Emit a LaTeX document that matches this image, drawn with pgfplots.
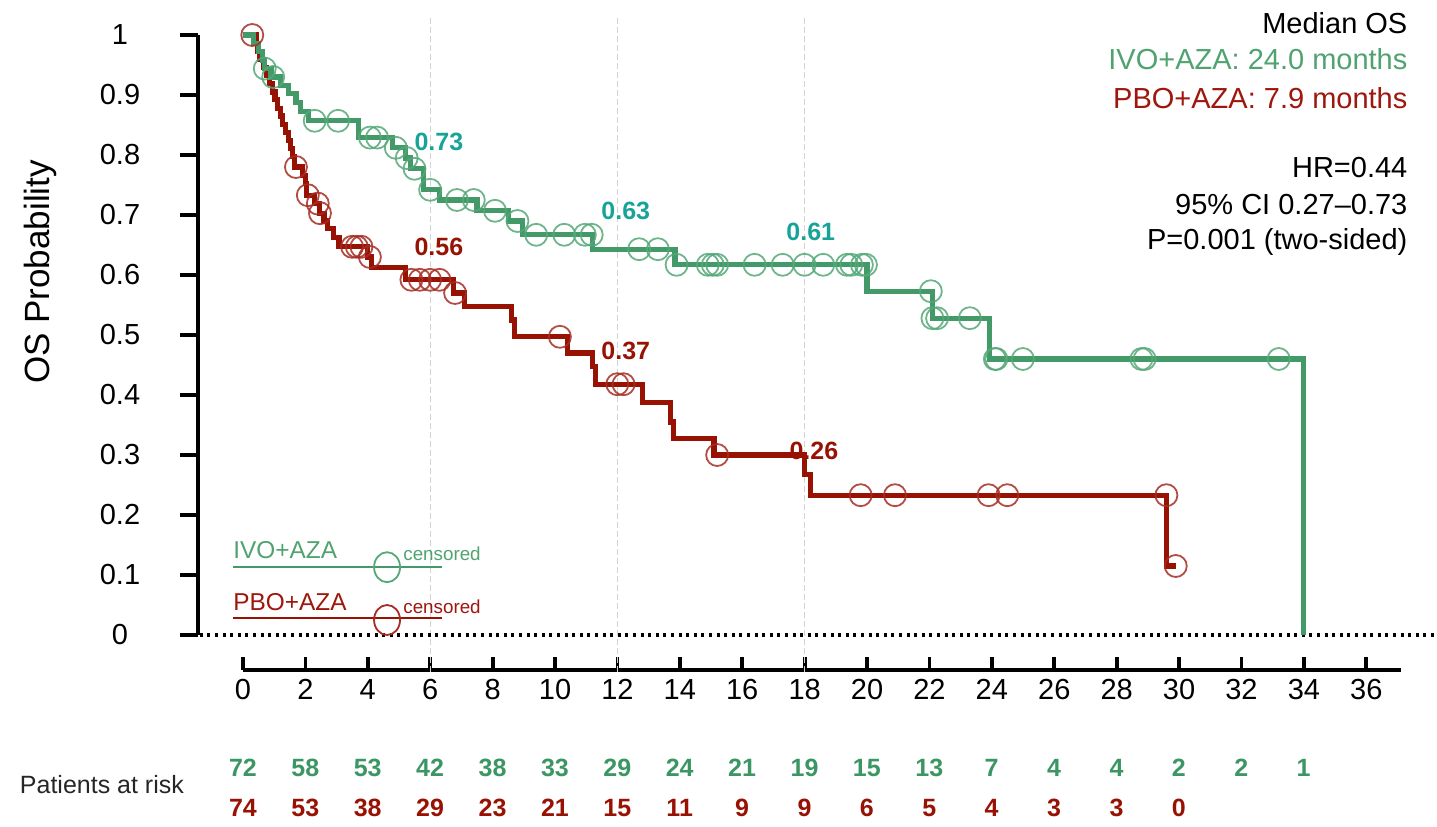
\documentclass[border=0pt]{standalone}
\usepackage{fontspec}
\setmainfont{Liberation Sans}
\usepackage{pgfplots}
\pgfplotsset{compat=1.18}
\definecolor{kmgreen}{RGB}{67,154,104}
\definecolor{kmgreenc}{RGB}{85,168,120}
\definecolor{kmred}{RGB}{152,18,4}
\definecolor{kmredc}{RGB}{165,45,35}
\definecolor{kmteal}{RGB}{24,163,153}
\definecolor{txtgreen}{RGB}{80,163,112}
\definecolor{txtred}{RGB}{158,22,12}
\definecolor{riskgreen}{RGB}{60,150,100}
\begin{document}
\begin{tikzpicture}
\path[use as bounding box] (0,0) rectangle (718.5pt,413pt);
% x axis (separate, below the plot)
\begin{axis}[
  at={(121.5pt,78pt)}, anchor=south west,
  scale only axis, width=578.8pt, height=20pt,
  xmin=0, xmax=37.1, ymin=0, ymax=1,
  axis x line=bottom, axis y line=none,
  x axis line style={-, line width=2.2pt},
  xtick={0,2,...,36},
  tick align=inside, major tick length=6.5pt,
  xtick style={line width=1.9pt, black},
  xticklabel style={font=\fontsize{14.5}{17}\selectfont, yshift=-1pt},
  /pgf/number format/assume math mode=true,
]
\end{axis}
% main plot
\begin{axis}[
  at={(99pt,95.5pt)}, anchor=south west,
  scale only axis, width=601.2pt, height=300pt,
  xmin=-1.44, xmax=37.1, ymin=0, ymax=1,
  axis x line=none, axis y line=left,
  y axis line style={-, line width=2pt},
  ytick={0,0.1,0.2,0.3,0.4,0.5,0.6,0.7,0.8,0.9,1},
  yticklabels={0,0.1,0.2,0.3,0.4,0.5,0.6,0.7,0.8,0.9,1},
  tick align=outside, major tick length=9pt,
  ytick style={line width=2pt, black},
  yticklabel style={font=\fontsize{14.5}{17}\selectfont, anchor=center, xshift=-30pt},
  clip=false,
]
% grid lines at 6, 12, 18
\draw[gray!35, line width=0.5pt, dash pattern=on 3pt off 1.5pt] (axis cs:6,-0.062) -- (axis cs:6,1.033);
\draw[gray!35, line width=0.5pt, dash pattern=on 3pt off 1.5pt] (axis cs:12,-0.062) -- (axis cs:12,1.033);
\draw[gray!35, line width=0.5pt, dash pattern=on 3pt off 1.5pt] (axis cs:18,-0.062) -- (axis cs:18,1.033);
% dotted zero line
\draw[black, line width=1.7pt, dash pattern=on 1.5pt off 2.3pt] (axis cs:-1.38,0) -- (axis cs:38.27,0);

% PBO+AZA
\addplot[const plot, kmred, line width=2.6pt] coordinates {
(0,1) (0.42,0.986) (0.48,0.973) (0.55,0.959) (0.65,0.946) (0.75,0.932)
(0.85,0.919) (0.95,0.905) (1.03,0.892) (1.12,0.878) (1.2,0.865) (1.28,0.851)
(1.36,0.838) (1.45,0.824) (1.52,0.811) (1.6,0.797) (1.66,0.780) (1.9,0.766)
(2.0,0.752) (2.05,0.733) (2.3,0.719) (2.45,0.703) (2.6,0.690) (2.72,0.677)
(2.9,0.663) (3.08,0.647) (4.0,0.630) (4.13,0.612) (5.2,0.592) (6.75,0.570)
(7.1,0.547) (8.6,0.525) (8.7,0.497) (10.4,0.470) (11.2,0.447) (11.3,0.418)
(12.8,0.388) (13.7,0.355) (13.8,0.328) (15.1,0.300) (18.0,0.267) (18.2,0.233)
(29.6,0.115) (29.9,0.115)
};
% IVO+AZA
\addplot[const plot, kmgreen, line width=2.6pt] coordinates {
(0,1) (0.35,0.986) (0.5,0.972) (0.62,0.958) (0.68,0.944) (0.9,0.930)
(1.2,0.916) (1.45,0.902) (1.7,0.888) (1.85,0.873) (2.1,0.857) (3.7,0.829)
(4.8,0.812) (5.2,0.795) (5.38,0.777) (5.8,0.742) (6.3,0.725) (7.5,0.707)
(8.5,0.690) (8.97,0.667) (11.2,0.643) (13.85,0.617) (20.0,0.573) (22.1,0.528)
(23.94,0.460) (34.0,0)
};
% censored marks
\addplot[only marks, mark=o, mark size=5.5pt, kmredc, draw opacity=0.85, mark options={line width=0.9pt}] coordinates {
(0.3,1.0) (1.7,0.780) (2.08,0.733) (2.4,0.719) (2.47,0.703) (3.5,0.647)
(3.65,0.647) (3.8,0.647) (4.07,0.630) (5.4,0.592) (5.67,0.592) (6.0,0.592)
(6.3,0.592) (6.8,0.570) (10.16,0.497) (12.0,0.418) (12.2,0.418) (15.2,0.300)
(19.8,0.233) (20.9,0.233) (23.9,0.233) (24.5,0.233) (29.6,0.233) (29.9,0.115)
};
\addplot[only marks, mark=o, mark size=5.5pt, kmgreenc, draw opacity=0.85, mark options={line width=0.9pt}] coordinates {
(0.7,0.944) (0.97,0.930) (2.3,0.857) (3.05,0.857) (4.07,0.829) (4.3,0.829)
(4.9,0.812) (5.25,0.795) (5.5,0.777) (6.0,0.742) (6.86,0.725) (7.4,0.725)
(8.08,0.707) (8.8,0.690) (9.4,0.667) (10.3,0.667) (10.96,0.667) (11.18,0.667)
(12.7,0.643) (13.3,0.643) (13.9,0.617) (14.9,0.617) (15.06,0.617) (15.2,0.617)
(16.4,0.617) (17.3,0.617) (18.0,0.617) (18.6,0.617) (19.36,0.617) (19.5,0.617)
(19.84,0.617) (19.97,0.617) (22.05,0.573) (22.1,0.528) (22.25,0.528) (23.3,0.528)
(24.1,0.460) (24.15,0.460) (25.0,0.460) (28.8,0.460) (28.9,0.460) (33.2,0.460)
};

% landmark values
\node[font=\bfseries\fontsize{12.5}{14}\selectfont, text=kmteal] at (axis cs:6.28,0.822) {0.73};
\node[font=\bfseries\fontsize{12.5}{14}\selectfont, text=kmteal] at (axis cs:12.27,0.707) {0.63};
\node[font=\bfseries\fontsize{12.5}{14}\selectfont, text=kmteal] at (axis cs:18.2,0.672) {0.61};
\node[font=\bfseries\fontsize{12.5}{14}\selectfont, text=kmred] at (axis cs:6.28,0.647) {0.56};
\node[font=\bfseries\fontsize{12.5}{14}\selectfont, text=kmred] at (axis cs:12.27,0.473) {0.37};
\node[font=\bfseries\fontsize{12.5}{14}\selectfont, text=kmred] at (axis cs:18.3,0.307) {0.26};

% summary text
\node[anchor=base east, font=\fontsize{14.5}{17}\selectfont] at (axis cs:37.55,1.003) {Median OS};
\node[anchor=base east, font=\fontsize{14.5}{17}\selectfont, text=txtgreen] at (axis cs:37.55,0.942) {IVO+AZA: 24.0 months};
\node[anchor=base east, font=\fontsize{14.5}{17}\selectfont, text=txtred] at (axis cs:37.55,0.878) {PBO+AZA: 7.9 months};
\node[anchor=base east, font=\fontsize{14.5}{17}\selectfont] at (axis cs:37.55,0.763) {HR=0.44};
\node[anchor=base east, font=\fontsize{14.5}{17}\selectfont] at (axis cs:37.55,0.700) {95\% CI 0.27--0.73};
\node[anchor=base east, font=\fontsize{14.5}{17}\selectfont] at (axis cs:37.55,0.642) {P=0.001 (two-sided)};

% legend
\draw[kmgreen, line width=1.3pt] (axis cs:-0.32,0.113) -- (axis cs:6.38,0.113);
\draw[kmgreenc, line width=0.9pt] (axis cs:4.62,0.113) ellipse [x radius=6.5pt, y radius=7.5pt];
\node[anchor=west, inner sep=0pt, font=\fontsize{12.2}{14}\selectfont, text=txtgreen] at (axis cs:-0.32,0.141) {IVO+AZA};
\node[anchor=west, inner sep=0pt, font=\fontsize{9.4}{11}\selectfont, text=txtgreen] at (axis cs:5.13,0.135) {censored};
\draw[kmred, line width=1.3pt] (axis cs:-0.32,0.028) -- (axis cs:6.38,0.028);
\draw[kmredc, line width=0.9pt] (axis cs:4.62,0.025) ellipse [x radius=6.5pt, y radius=7.5pt];
\node[anchor=west, inner sep=0pt, font=\fontsize{12.2}{14}\selectfont, text=txtred] at (axis cs:-0.32,0.055) {PBO+AZA};
\node[anchor=west, inner sep=0pt, font=\fontsize{9.4}{11}\selectfont, text=txtred] at (axis cs:5.13,0.047) {censored};

% axis title
\node[rotate=90, font=\fontsize{17.5}{20}\selectfont] at (axis cs:-6.5,0.605) {OS Probability};

% patients at risk
\node[font=\fontsize{12.5}{14}\selectfont, text=black!85] at (axis cs:-4.52,-0.25) {Patients at risk};
\addplot[draw=none, mark=none, nodes near coords, point meta=explicit symbolic,
  nodes near coords style={anchor=center, font=\bfseries\fontsize{12.5}{14}\selectfont, text=riskgreen}] coordinates {
(0,-0.222)[72] (2,-0.222)[58] (4,-0.222)[53] (6,-0.222)[42] (8,-0.222)[38] (10,-0.222)[33]
(12,-0.222)[29] (14,-0.222)[24] (16,-0.222)[21] (18,-0.222)[19] (20,-0.222)[15] (22,-0.222)[13]
(24,-0.222)[7] (26,-0.222)[4] (28,-0.222)[4] (30,-0.222)[2] (32,-0.222)[2] (34,-0.222)[1]
};
\addplot[draw=none, mark=none, nodes near coords, point meta=explicit symbolic,
  nodes near coords style={anchor=center, font=\bfseries\fontsize{12.5}{14}\selectfont, text=kmred}] coordinates {
(0,-0.288)[74] (2,-0.288)[53] (4,-0.288)[38] (6,-0.288)[29] (8,-0.288)[23] (10,-0.288)[21]
(12,-0.288)[15] (14,-0.288)[11] (16,-0.288)[9] (18,-0.288)[9] (20,-0.288)[6] (22,-0.288)[5]
(24,-0.288)[4] (26,-0.288)[3] (28,-0.288)[3] (30,-0.288)[0]
};
\end{axis}
\end{tikzpicture}
\end{document}
